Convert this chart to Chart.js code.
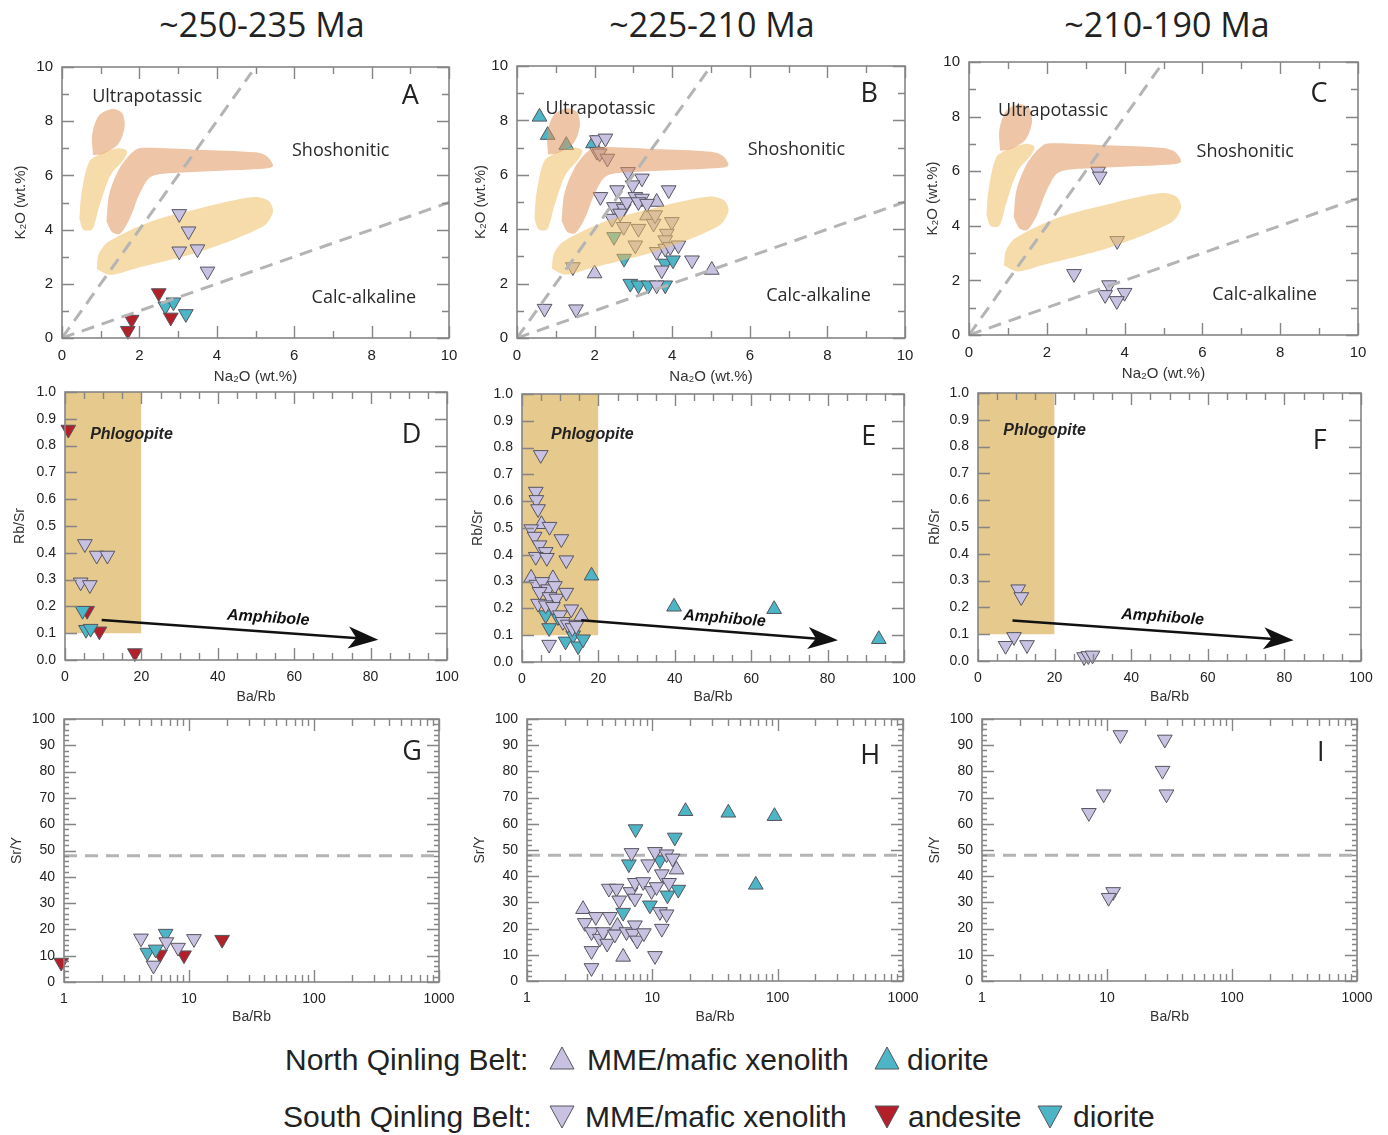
<!DOCTYPE html>
<html>
<head>
<meta charset="utf-8">
<script src="https://cdn.jsdelivr.net/npm/chart.js@4.4.0/dist/chart.umd.min.js"></script>
<style>
  body { margin: 0; background: #fff; width: 1388px; height: 1135px; position: relative; overflow: hidden;
         font-family: Arial, "Liberation Sans", sans-serif; }
  .panel { position: absolute; }
  .age { position: absolute; top: 0; line-height: 48px; font-family: "Open Sans", sans-serif; font-size: 34px;
         color: #222; transform: translateX(-50%); white-space: nowrap; }
  .leg { position: absolute; font-size: 30px; line-height: 36px; color: #222; white-space: nowrap; }
  .legtri { position: absolute; }
</style>
</head>
<body>
<div class="age" style="left:262px">~250-235 Ma</div>
<div class="age" style="left:712px">~225-210 Ma</div>
<div class="age" style="left:1167px">~210-190 Ma</div>

<div id="legend"></div>

<script>
// ---- datos ----
const ageTitles = ['~250-235 Ma', '~225-210 Ma', '~210-190 Ma'];

// K2O vs Na2O  (x = Na2O, y = K2O)
const aSqMme = [[3.03, 4.58], [3.27, 3.94], [3.03, 3.2], [3.5, 3.28], [3.76, 2.46]];
const aSqAnd = [[2.5, 1.66], [1.8, 0.68], [1.7, 0.27], [2.81, 0.76]];
const aSqDio = [[2.67, 1.17], [2.88, 1.32], [3.2, 0.89]];

const bNqMme = [[2.0, 2.37], [5.02, 2.5], [3.35, 4.5], [3.6, 5.0]];
const bNqDio = [[0.58, 8.13], [0.79, 7.46], [1.27, 7.09], [1.96, 7.15]];
const bSqMme = [[0.71, 1.08], [1.52, 1.06], [1.44, 2.61], [2.06, 7.28], [2.28, 7.34], [2.06, 6.85], [2.13, 6.79],
  [2.33, 6.6], [2.15, 5.19], [2.58, 5.44], [2.86, 6.11], [3.22, 5.87], [2.98, 5.62], [2.5, 4.82], [2.75, 4.76],
  [2.83, 5.0], [3.05, 5.19], [3.22, 5.13], [3.13, 5.0], [3.35, 4.94], [3.91, 5.44], [2.45, 4.39], [2.66, 4.58],
  [2.75, 4.09], [3.13, 4.02], [3.52, 4.21], [3.56, 4.52], [3.99, 4.27], [3.86, 3.84], [3.82, 3.6], [3.05, 3.41],
  [3.6, 3.17], [3.82, 3.29], [3.95, 3.35], [4.16, 3.41], [3.73, 2.49], [4.51, 2.86], [3.6, 1.94]];
const bSqDio = [[2.5, 3.72], [2.76, 2.92], [2.92, 2.0], [3.13, 1.94], [3.39, 1.94], [3.82, 1.94], [3.82, 2.74], [4.02, 2.86]];

const cSqMme = [[3.32, 5.99], [3.36, 5.81], [3.81, 3.45], [2.7, 2.24], [3.6, 1.83], [3.5, 1.47], [4.0, 1.55], [3.8, 1.25]];

// campos de referencia (Na2O, K2O)
const fieldUltraTop = [[0.8, 6.75], [0.78, 7.5], [0.95, 8.2], [1.3, 8.45], [1.55, 8.3], [1.62, 7.8], [1.45, 7.15], [1.05, 6.8], [0.8, 6.75]];
const fieldUltraLeft = [[0.45, 4.4], [0.5, 5.3], [0.7, 6.5], [1.0, 6.8], [1.45, 7.0], [1.68, 6.9], [1.6, 6.6], [1.25, 6.0],
  [0.95, 4.8], [0.78, 4.0], [0.55, 4.0], [0.45, 4.4]];
const fieldShosh = [[1.15, 4.3], [1.22, 5.3], [1.5, 6.3], [1.9, 6.95], [2.2, 7.02], [3.5, 6.95], [5.0, 6.85], [5.3, 6.7],
  [5.45, 6.35], [5.2, 6.25], [3.0, 6.1], [2.3, 5.95], [2.0, 5.3], [1.75, 4.4], [1.5, 3.85], [1.3, 3.9], [1.15, 4.3]];
const fieldHighK = [[0.9, 2.55], [0.95, 3.1], [1.2, 3.55], [2.3, 4.3], [3.6, 4.8], [4.95, 5.2], [5.35, 5.05], [5.45, 4.65],
  [5.2, 4.12], [3.6, 3.2], [1.85, 2.55], [1.25, 2.33], [0.9, 2.55]];
const lineUltra = [[0, 0], [4.9, 9.8]];
const lineCalc = [[0, 0], [10, 5]];

// Rb/Sr vs Ba/Rb
const dSqAnd = [[0.87, 0.86], [5.8, 0.184], [9.0, 0.107], [18.3, 0.026]];
const dSqMme = [[5.2, 0.433], [8.3, 0.39], [11.1, 0.39], [4.1, 0.29], [6.5, 0.28]];
const dSqDio = [[4.6, 0.184], [5.5, 0.113], [6.7, 0.117]];

const eNqDio = [[18.2, 0.322], [39.8, 0.206], [66, 0.197], [93.4, 0.085]];
const eNqMme = [[2.4, 0.314], [5.1, 0.514], [8.1, 0.312], [15.5, 0.171]];
const eSqMme = [[4.9, 0.773], [3.6, 0.636], [3.75, 0.605], [4.2, 0.571], [2.4, 0.496], [3.3, 0.468], [7.2, 0.505],
  [4.6, 0.436], [6.2, 0.411], [3.6, 0.393], [6.5, 0.389], [10.3, 0.459], [11.6, 0.38], [3.75, 0.289], [5.3, 0.299],
  [6.8, 0.272], [8.6, 0.284], [4.6, 0.262], [7.2, 0.243], [9.0, 0.237], [4.2, 0.218], [6.2, 0.212], [8.1, 0.206],
  [11.6, 0.259], [12.9, 0.197], [9.9, 0.175], [10.7, 0.15], [12.0, 0.14], [13.2, 0.127], [14.2, 0.135], [7.1, 0.065]];
const eSqDio = [[6.2, 0.175], [7.1, 0.127], [9.4, 0.168], [11.4, 0.077], [13.4, 0.1], [14.7, 0.059], [16.0, 0.085]];

const fSqMme = [[10.5, 0.268], [11.3, 0.239], [9.4, 0.09], [7.2, 0.057], [12.8, 0.06], [27.7, 0.015], [28.8, 0.019], [29.9, 0.021]];

const phlogopite = [[0, 1.0], [20, 1.0]];   // relleno hasta Rb/Sr = 0.1

// Sr/Y vs Ba/Rb
const gSqAnd = [[0.95, 7.4], [18.4, 16.1], [5.86, 10.5], [9.12, 10.2]];
const gSqMme = [[4.13, 16.6], [5.2, 6.3], [6.59, 15.2], [8.17, 13.1], [10.96, 16.4]];
const gSqDio = [[4.64, 11.2], [5.41, 12.4], [6.5, 18.4]];

const hNqDio = [[18.4, 64.8], [40.4, 64.2], [94.3, 62.9], [66.9, 36.7]];
const hNqMme = [[2.8, 27.4], [5.85, 9.2], [5.27, 21.0], [15.6, 42.5]];
const hSqDio = [[7.35, 58.0], [15.1, 54.8], [6.5, 44.6], [11.5, 46.1], [5.85, 26.1], [9.56, 28.9], [13.2, 32.7], [16.1, 34.9]];
const hSqMme = [[3.27, 5.0], [3.27, 11.5], [2.89, 22.2], [3.27, 18.7], [3.54, 24.5], [3.81, 16.2], [4.05, 18.7],
  [4.36, 14.3], [4.58, 24.5], [4.5, 35.3], [5.18, 35.3], [5.44, 30.8], [5.02, 17.8], [6.22, 18.7], [6.7, 34.0],
  [6.82, 48.9], [7.26, 37.5], [7.26, 21.3], [7.0, 18.1], [7.57, 15.5], [8.56, 18.3], [8.46, 37.8], [7.26, 31.5],
  [9.27, 44.6], [9.86, 34.4], [10.8, 35.9], [10.5, 49.3], [10.5, 9.6], [11.9, 40.8], [11.5, 26.4], [11.9, 20.0],
  [13.0, 25.5], [13.6, 37.5], [13.0, 48.4], [14.5, 46.8]];

const iSqMme = [[12.8, 93.9], [29.0, 92.2], [27.8, 80.3], [29.9, 71.3], [9.4, 71.3], [7.16, 64.2], [11.2, 34.0], [10.3, 31.8]];

const adakiteLine = [[1, 48], [1000, 48]];

const ticksK2O = [0, 2, 4, 6, 8, 10];
const ticksBaRb = [0, 20, 40, 60, 80, 100];
const ticksRbSr = [0, 0.1, 0.2, 0.3, 0.4, 0.5, 0.6, 0.7, 0.8, 0.9, 1.0];
const ticksLog = [1, 10, 100, 1000];
const ticksSrY = [0, 10, 20, 30, 40, 50, 60, 70, 80, 90, 100];

// ---- estilos ----
const LAV = '#c8c1e1', CYAN = '#4cb5c6', RED = '#b3202a', EDGE = '#55555f';
const YELLOW = 'rgba(237,191,100,0.55)', SALMON = 'rgba(224,150,93,0.55)', PHLOG = '#e6c98d';
const FONT = 'Arial, "Liberation Sans", "DejaVu Sans", sans-serif';
const LABEL_FONT = '"Open Sans", sans-serif';

// margenes del lienzo alrededor del area de trazado
const PAD_L = 62, PAD_T = 20, PAD_R = 28, PAD_B = 48;

const toXY = pts => pts.map(([x, y]) => ({ x, y }));

const tri = (pts, color, up) => ({
  type: 'scatter', data: toXY(pts), pointStyle: 'triangle', rotation: up ? 0 : 180,
  pointRadius: 8.5, pointHoverRadius: 8.5, backgroundColor: color, borderColor: EDGE,
  borderWidth: 1, order: 1, clip: false
});
const area = (pts, color, order) => ({
  type: 'line', data: toXY(pts), fill: 'shape', backgroundColor: color, borderColor: 'rgba(0,0,0,0)',
  borderWidth: 0, pointRadius: 0, tension: 0.3, order
});
const dashed = (pts, order = -1) => ({
  type: 'line', data: toXY(pts), borderColor: '#b4b4b4', borderWidth: 3, borderDash: [13, 8],
  pointRadius: 0, fill: false, order
});

const marksLinear = (min, max, minor, major, lenMajor, lenMinor) => {
  const out = [];
  const n = Math.round((max - min) / minor);
  for (let i = 0; i <= n; i++) {
    const v = +(min + i * minor).toFixed(6);
    const r = v / major;
    out.push({ v, len: Math.abs(r - Math.round(r)) < 1e-6 ? lenMajor : lenMinor });
  }
  return out;
};
const marksLog = () => {
  const out = [];
  [1, 10, 100].forEach(d => { for (let k = 1; k < 10; k++) out.push({ v: k * d, len: k === 1 ? 12 : 7 }); });
  out.push({ v: 1000, len: 12 });
  return out;
};

// marco, marcas interiores, textos y flecha
const makeFrame = (p) => ({
  id: 'frame' + p.id,
  afterDraw(chart) {
    const ctx = chart.ctx;
    const { left, right, top, bottom } = chart.chartArea;
    const xs = chart.scales.x, ys = chart.scales.y;
    const px = v => xs.getPixelForValue(v), py = v => ys.getPixelForValue(v);
    ctx.save();

    if (p.arrow) {
      const [x1, y1, x2, y2] = p.arrow;
      const ax = px(x1), ay = py(y1), bx = px(x2), by = py(y2);
      const len = Math.hypot(bx - ax, by - ay);
      const ux = (bx - ax) / len, uy = (by - ay) / len;
      const nx = -uy, ny = ux;
      ctx.strokeStyle = '#111'; ctx.fillStyle = '#111'; ctx.lineWidth = 2.5;
      ctx.beginPath(); ctx.moveTo(ax, ay); ctx.lineTo(bx - ux * 20, by - uy * 20); ctx.stroke();
      ctx.beginPath();
      ctx.moveTo(bx, by);
      ctx.lineTo(bx - ux * 30 + nx * 11, by - uy * 30 + ny * 11);
      ctx.lineTo(bx - ux * 22, by - uy * 22);
      ctx.lineTo(bx - ux * 30 - nx * 11, by - uy * 30 - ny * 11);
      ctx.closePath(); ctx.fill();
      ctx.save();
      ctx.translate(px(p.arrowLabel[0]), py(p.arrowLabel[1]));
      ctx.rotate(Math.atan2(by - ay, bx - ax));
      ctx.font = 'italic bold 16px ' + FONT; ctx.textAlign = 'center'; ctx.textBaseline = 'middle';
      ctx.fillText('Amphibole', 0, 0);
      ctx.restore();
    }

    p.labels.forEach(l => {
      ctx.font = l.font; ctx.fillStyle = l.color || '#2a2a2a';
      ctx.textAlign = 'center'; ctx.textBaseline = 'middle';
      ctx.fillText(l.text, px(l.x), py(l.y));
    });

    ctx.strokeStyle = '#858585'; ctx.lineWidth = 1.4;
    ctx.beginPath();
    p.xMarks.forEach(m => {
      const x = Math.round(px(m.v)) + 0.5;
      ctx.moveTo(x, bottom); ctx.lineTo(x, bottom - m.len);
      ctx.moveTo(x, top); ctx.lineTo(x, top + m.len);
    });
    p.yMarks.forEach(m => {
      const y = Math.round(py(m.v)) + 0.5;
      ctx.moveTo(left, y); ctx.lineTo(left + m.len, y);
      ctx.moveTo(right, y); ctx.lineTo(right - m.len, y);
    });
    ctx.stroke();
    ctx.lineWidth = 1.6;
    ctx.strokeRect(left, top, right - left, bottom - top);
    ctx.restore();
  }
});

const scale = (type, min, max, ticks, fmt, title, tickSize, titleSize, titlePad, isY) => ({
  type, min, max, position: isY ? 'left' : 'bottom',
  grid: { display: false, drawTicks: false }, border: { display: false },
  ticks: { padding: 9, autoSkip: false, maxRotation: 0, color: '#222', font: { family: FONT, size: tickSize }, callback: fmt },
  afterBuildTicks: s => { s.ticks = ticks.map(v => ({ value: v })); },
  afterFit: s => { if (isY) s.width = PAD_L; else s.height = PAD_B; },
  title: { display: true, text: title, color: '#333', font: { family: FONT, size: titleSize },
           padding: isY ? { top: titlePad, bottom: 0 } : { top: 0, bottom: titlePad } }
});

const k2oLabels = (u, s, c, letter, pos) => [
  { text: 'Ultrapotassic', x: u[0], y: u[1], font: '18px ' + LABEL_FONT },
  { text: 'Shoshonitic', x: s[0], y: s[1], font: '18px ' + LABEL_FONT },
  { text: 'Calc-alkaline', x: c[0], y: c[1], font: '18px ' + LABEL_FONT },
  { text: letter, x: pos[0], y: pos[1], font: '27px ' + LABEL_FONT, color: '#222' }
];
const letterLabel = (letter, pos) => ({ text: letter, x: pos[0], y: pos[1], font: '27px ' + LABEL_FONT, color: '#222' });
const phlogLabel = pos => ({ text: 'Phlogopite', x: pos[0], y: pos[1], font: 'italic bold 16px ' + FONT, color: '#222' });

const k2oFields = (order) => [
  area(fieldUltraTop, SALMON, order), area(fieldUltraLeft, YELLOW, order),
  area(fieldShosh, SALMON, order), area(fieldHighK, YELLOW, order)
];

const panels = [
  { id: 'A', box: [62, 67, 449, 338], kind: 'k2o', yPad: 12, xPad: 0,
    sets: [...k2oFields(3), dashed(lineUltra), dashed(lineCalc), tri(aSqMme, LAV, false), tri(aSqAnd, RED, false), tri(aSqDio, CYAN, false)],
    labels: k2oLabels([2.2, 8.9], [7.2, 6.9], [7.8, 1.48], 'A', [9.0, 8.9]) },
  { id: 'B', box: [517, 66, 905, 338], kind: 'k2o', yPad: 17, xPad: 0,
    sets: [...k2oFields(0), dashed(lineUltra), dashed(lineCalc), tri(bSqMme, LAV, false), tri(bSqDio, CYAN, false), tri(bNqMme, LAV, true), tri(bNqDio, CYAN, true)],
    labels: k2oLabels([2.15, 8.44], [7.2, 6.93], [7.77, 1.55], 'B', [9.08, 8.96]) },
  { id: 'C', box: [969, 62, 1358, 335], kind: 'k2o', yPad: 17, xPad: 0,
    sets: [...k2oFields(0), dashed(lineUltra), dashed(lineCalc), tri(cSqMme, LAV, false)],
    labels: k2oLabels([2.16, 8.2], [7.1, 6.72], [7.6, 1.47], 'C', [9.0, 8.83]) },
  { id: 'D', box: [65, 392, 447, 660], kind: 'rbsr', yPad: 9, xPad: 2,
    sets: [area(phlogopite, PHLOG, 3), tri(dSqMme, LAV, false), tri(dSqDio, CYAN, false), tri(dSqAnd, RED, false)],
    arrow: [9.6, 0.149, 82, 0.076], arrowLabel: [53.2, 0.157],
    labels: [phlogLabel([17.4, 0.84]), letterLabel('D', [90.7, 0.84])] },
  { id: 'E', box: [522, 394, 904, 662], kind: 'rbsr', yPad: 10, xPad: 4,
    sets: [area(phlogopite, PHLOG, 3), tri(eSqMme, LAV, false), tri(eSqDio, CYAN, false), tri(eNqMme, LAV, true), tri(eNqDio, CYAN, true)],
    arrow: [15.5, 0.156, 82.7, 0.081], arrowLabel: [53, 0.162],
    labels: [phlogLabel([18.4, 0.85]), letterLabel('E', [90.8, 0.84])] },
  { id: 'F', box: [978, 393, 1361, 661], kind: 'rbsr', yPad: 11, xPad: 3,
    sets: [area(phlogopite, PHLOG, 3), tri(fSqMme, LAV, false)],
    arrow: [9.0, 0.151, 82.4, 0.077], arrowLabel: [48.2, 0.163],
    labels: [phlogLabel([17.4, 0.86]), letterLabel('F', [89.2, 0.818])] },
  { id: 'G', box: [64, 719, 439, 982], kind: 'sry', yPad: 7, xPad: 4,
    sets: [dashed(adakiteLine, 2), tri(gSqMme, LAV, false), tri(gSqDio, CYAN, false), tri(gSqAnd, RED, false)],
    labels: [letterLabel('G', [608, 87.2])] },
  { id: 'H', box: [527, 719, 903, 981], kind: 'sry', yPad: 7, xPad: 3,
    sets: [dashed(adakiteLine, 2), tri(hSqMme, LAV, false), tri(hSqDio, CYAN, false), tri(hNqMme, LAV, true), tri(hNqDio, CYAN, true)],
    labels: [letterLabel('H', [548, 85.6])] },
  { id: 'I', box: [982, 719, 1357, 981], kind: 'sry', yPad: 7, xPad: 3,
    sets: [dashed(adakiteLine, 2), tri(iSqMme, LAV, false)],
    labels: [letterLabel('I', [513, 87])] }
];

const buildPanel = (p) => {
  const [L, T, R, B] = p.box;
  const wrap = document.createElement('div');
  wrap.className = 'panel';
  wrap.style.left = (L - PAD_L) + 'px';
  wrap.style.top = (T - PAD_T) + 'px';
  const canvas = document.createElement('canvas');
  canvas.width = R - L + PAD_L + PAD_R;
  canvas.height = B - T + PAD_T + PAD_B;
  wrap.appendChild(canvas);
  document.body.appendChild(wrap);

  let xs, ys;
  if (p.kind === 'k2o') {
    xs = scale('linear', 0, 10, ticksK2O, v => String(v), 'Na\u2082O (wt.%)', 15, 15, p.xPad, false);
    ys = scale('linear', 0, 10, ticksK2O, v => String(v), 'K\u2082O (wt.%)', 15, 15, p.yPad, true);
    p.xMarks = marksLinear(0, 10, 1, 2, 12, 7);
    p.yMarks = marksLinear(0, 10, 1, 2, 12, 7);
  } else if (p.kind === 'rbsr') {
    xs = scale('linear', 0, 100, ticksBaRb, v => String(v), 'Ba/Rb', 14, 14, p.xPad, false);
    ys = scale('linear', 0, 1, ticksRbSr, v => Number(v).toFixed(1), 'Rb/Sr', 14, 14, p.yPad, true);
    p.xMarks = marksLinear(0, 100, 5, 20, 12, 7);
    p.yMarks = marksLinear(0, 1, 0.1, 0.1, 12, 12);
    p.sets[0].fill = { value: 0.1 };
    p.sets[0].tension = 0;
  } else {
    xs = scale('logarithmic', 1, 1000, ticksLog, v => String(v), 'Ba/Rb', 14, 14, p.xPad, false);
    ys = scale('linear', 0, 100, ticksSrY, v => String(v), 'Sr/Y', 14, 14, p.yPad, true);
    p.xMarks = marksLog();
    p.yMarks = marksLinear(0, 100, 2, 10, 12, 5);
  }

  new Chart(canvas, {
    type: 'scatter',
    data: { datasets: p.sets },
    options: {
      responsive: false,
      animation: false,
      events: [],
      layout: { padding: { top: PAD_T, right: PAD_R, left: 0, bottom: 0 } },
      scales: { x: xs, y: ys },
      plugins: { legend: { display: false }, tooltip: { enabled: false } }
    },
    plugins: [makeFrame(p)]
  });
};

panels.forEach(buildPanel);

// ---- leyenda ----
const triSvg = (color, up) => {
  const pts = up ? '14,2 26,24 2,24' : '2,2 26,2 14,24';
  return `<svg width="28" height="26"><polygon points="${pts}" fill="${color}" stroke="${EDGE}" stroke-width="1"/></svg>`;
};
const legendItems = [
  { t: 'North Qinling Belt:', x: 285, y: 1042 },
  { svg: triSvg(LAV, true), x: 548, y: 1045 },
  { t: 'MME/mafic xenolith', x: 587, y: 1042 },
  { svg: triSvg(CYAN, true), x: 873, y: 1045 },
  { t: 'diorite', x: 907, y: 1042 },
  { t: 'South Qinling Belt:', x: 283, y: 1099 },
  { svg: triSvg(LAV, false), x: 548, y: 1104 },
  { t: 'MME/mafic xenolith', x: 585, y: 1099 },
  { svg: triSvg(RED, false), x: 873, y: 1104 },
  { t: 'andesite', x: 908, y: 1099 },
  { svg: triSvg(CYAN, false), x: 1036, y: 1104 },
  { t: 'diorite', x: 1073, y: 1099 }
];
const legend = document.getElementById('legend');
legendItems.forEach(it => {
  const el = document.createElement('div');
  el.className = it.t ? 'leg' : 'legtri';
  el.style.left = it.x + 'px';
  el.style.top = it.y + 'px';
  if (it.t) el.textContent = it.t; else el.innerHTML = it.svg;
  legend.appendChild(el);
});
</script>
</body>
</html>
